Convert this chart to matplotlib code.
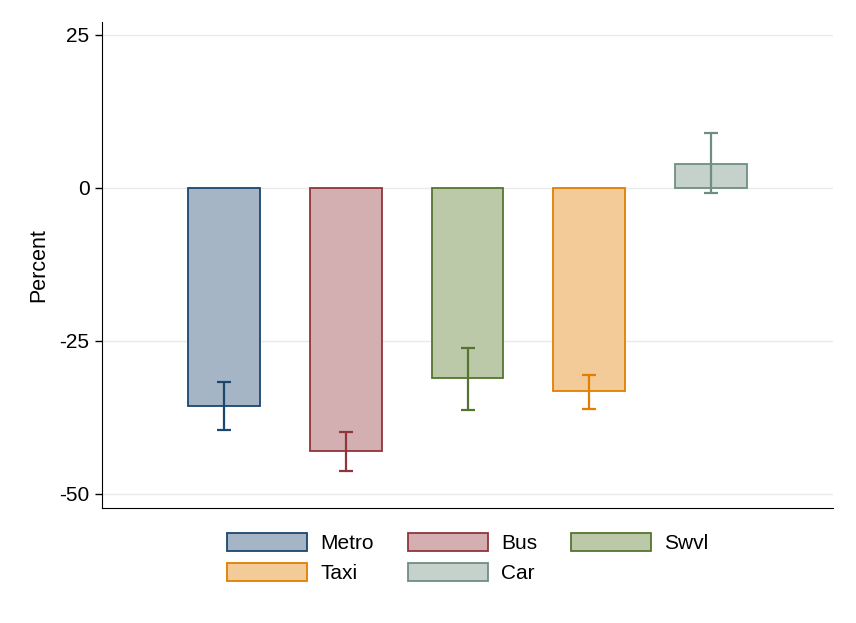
import matplotlib
matplotlib.use("Agg")
import matplotlib.pyplot as plt
from matplotlib.patches import Patch

categories = ["Metro", "Bus", "Swvl", "Taxi", "Car"]
values = [-35.6, -43.0, -31.0, -33.2, 3.9]
ci_low = [-39.5, -46.2, -36.3, -36.1, -0.8]
ci_high = [-31.7, -39.9, -26.1, -30.6, 9.0]
yticks = [-50, -25, 0, 25]

edge_colors = ["#1a476f", "#90353b", "#55752f", "#e37e00", "#6e8e84"]
fill_colors = ["#a5b5c6", "#d4afb2", "#bcc9a9", "#f3cb98", "#c5d1cb"]

plt.rcParams['font.family'] = ['Liberation Sans', 'DejaVu Sans']

fig = plt.figure(figsize=(8.56, 6.23), dpi=100)
ax = fig.add_axes([102/856, 1-508/623, (833-102)/856, (508-22)/623])

x = list(range(1, len(categories)+1))
for i in range(len(categories)):
    ax.bar(x[i], values[i], width=0.59, color=fill_colors[i], edgecolor=edge_colors[i],
           linewidth=1.3, zorder=2)
    ax.errorbar(x[i], values[i], yerr=[[values[i]-ci_low[i]], [ci_high[i]-values[i]]],
                fmt='none', ecolor=edge_colors[i], elinewidth=1.6, capsize=5, capthick=1.6, zorder=3)

ax.set_xlim(0, 6)
ax.set_ylim(-52.3, 27.1)
ax.set_yticks(yticks)
ax.set_yticklabels([str(v) for v in yticks], fontsize=15)
ax.set_xticks([])
ax.yaxis.grid(True, color="#eaeaea", linewidth=1, zorder=0)
ax.set_axisbelow(True)
for s in ["top", "right"]:
    ax.spines[s].set_visible(False)
ax.spines["left"].set_color("black")
ax.spines["bottom"].set_color("black")
ax.tick_params(axis='y', length=5, width=1, direction='out', pad=4)
ax.set_ylabel("Percent", fontsize=15.5, labelpad=7)

handles = [Patch(facecolor=fill_colors[i], edgecolor=edge_colors[i], linewidth=1.3,
                 label=categories[i]) for i in range(len(categories))]
order = [0, 3, 1, 4, 2]
fig.legend(handles=[handles[k] for k in order], loc="upper left",
           bbox_to_anchor=(227/856, 1-533/623), ncol=3,
           frameon=False, fontsize=15, handlelength=3.85, handleheight=0.96,
           columnspacing=1.62, handletextpad=0.63, labelspacing=0.48,
           borderaxespad=0, borderpad=0)

fig.savefig("out.png", dpi=100)
